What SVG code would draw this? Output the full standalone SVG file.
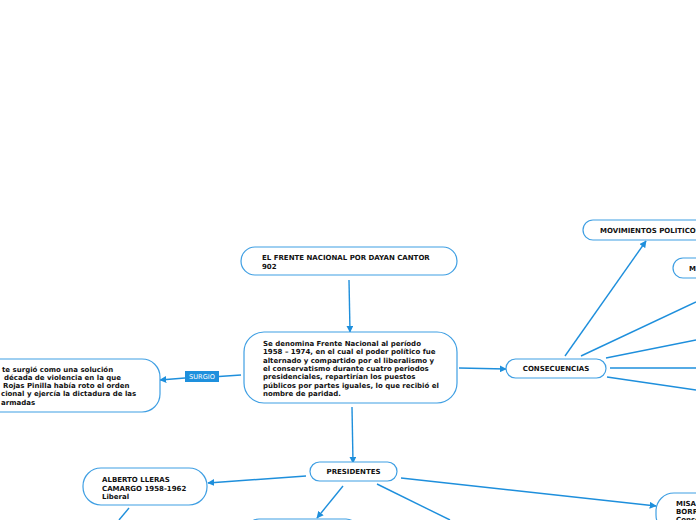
<svg xmlns="http://www.w3.org/2000/svg" width="696" height="520" viewBox="0 0 696 520">
<style>
.n{fill:#fff;stroke:#3f9fe3;stroke-width:1.2}
.t{font-family:"DejaVu Sans",Verdana,sans-serif;font-weight:bold;font-size:7px;fill:#111}
.c{fill:none;stroke:#1e8fdc;stroke-width:1.4}
.lbl{font-family:"DejaVu Sans",Verdana,sans-serif;font-size:6.6px;fill:#fff}
</style>
<defs>
<marker id="a" viewBox="0 0 10 10" refX="9" refY="5" markerWidth="7" markerHeight="7" markerUnits="userSpaceOnUse" orient="auto">
<path d="M0,0 L10,5 L0,10 z" fill="#1e8fdc"/>
</marker>
</defs>
<rect width="696" height="520" fill="#fff"/>
<g id="connectors">
<path class="c" d="M349,280 L350,332" marker-end="url(#a)"/>
<path class="c" d="M352,407 L353,463" marker-end="url(#a)"/>
<path class="c" d="M459,368 L506,369" marker-end="url(#a)"/>
<path class="c" d="M241,375 L219,376.5"/>
<path class="c" d="M185,378 L160,380" marker-end="url(#a)"/>
<path class="c" d="M565,356 L646,241" marker-end="url(#a)"/>
<path class="c" d="M581,356 L696,302"/>
<path class="c" d="M606,358 L696,340"/>
<path class="c" d="M610,368 L696,368"/>
<path class="c" d="M607,377 L696,390"/>
<path class="c" d="M306,476 L208,483" marker-end="url(#a)"/>
<path class="c" d="M343,486 L317,518" marker-end="url(#a)"/>
<path class="c" d="M377,484 L450,520"/>
<path class="c" d="M401,478 L656,506" marker-end="url(#a)"/>
<path class="c" d="M129,508 L119,520"/>
</g>
<g id="label-surgio">
<rect x="185" y="371" width="34" height="11" fill="#1e90dd"/>
<text class="lbl" x="202" y="378.8" text-anchor="middle">SURGIO</text>
</g>
<g id="title">
<rect class="n" x="241" y="247" width="216" height="28" rx="14"/>
<text class="t" x="262" y="260">EL FRENTE NACIONAL POR DAYAN CANTOR</text>
<text class="t" x="262" y="268.5">902</text>
</g>
<g id="main">
<rect class="n" x="244" y="332" width="213" height="71" rx="20"/>
<text class="t" x="263" y="345.5">Se denomina Frente Nacional al período</text>
<text class="t" x="263" y="354">1958 – 1974, en el cual el poder político fue</text>
<text class="t" x="263" y="362.5">alternado y compartido  por el liberalismo y</text>
<text class="t" x="263" y="371">el conservatismo durante cuatro periodos</text>
<text class="t" x="263" y="379.3">presidenciales, repartirían los puestos</text>
<text class="t" x="263" y="387.6">públicos por partes iguales, lo que recibió el</text>
<text class="t" x="263" y="396">nombre de paridad.</text>
</g>
<g id="surgio-node">
<rect class="n" x="-40" y="359" width="200" height="53" rx="18"/>
<text class="t" x="2" y="372">te surgió como una solución</text>
<text class="t" x="4" y="380">década de violencia en la que</text>
<text class="t" x="3" y="388">Rojas Pinilla había roto el orden</text>
<text class="t" x="1" y="396.3">cional y ejercía la dictadura de las</text>
<text class="t" x="1" y="404.5">armadas</text>
</g>
<g id="consecuencias">
<rect class="n" x="506" y="359" width="100" height="19" rx="9.5"/>
<text class="t" x="556" y="371" text-anchor="middle">CONSECUENCIAS</text>
</g>
<g id="movimientos">
<rect class="n" x="583" y="220" width="140" height="20" rx="10"/>
<text class="t" x="600" y="232.5">MOVIMIENTOS POLITICOS</text>
</g>
<g id="m-node">
<rect class="n" x="673" y="258" width="60" height="20" rx="10"/>
<text class="t" x="689" y="270.5">M</text>
</g>
<g id="presidentes">
<rect class="n" x="310" y="462" width="87" height="19" rx="9.5"/>
<text class="t" x="353.5" y="474" text-anchor="middle">PRESIDENTES</text>
</g>
<g id="alberto">
<rect class="n" x="83" y="468" width="124" height="37" rx="18"/>
<text class="t" x="102" y="482">ALBERTO LLERAS</text>
<text class="t" x="102" y="490.5">CAMARGO 1958-1962</text>
<text class="t" x="102" y="499">Liberal</text>
</g>
<g id="bottom-node">
<rect class="n" x="247" y="519" width="111" height="30" rx="12"/>
</g>
<g id="misael">
<rect class="n" x="656" y="493" width="80" height="40" rx="18"/>
<text class="t" x="676" y="506">MISAEL PASTRANA</text>
<text class="t" x="676" y="514">BORRERO 1970-1974</text>
<text class="t" x="676" y="522">Conservador</text>
</g>
</svg>
